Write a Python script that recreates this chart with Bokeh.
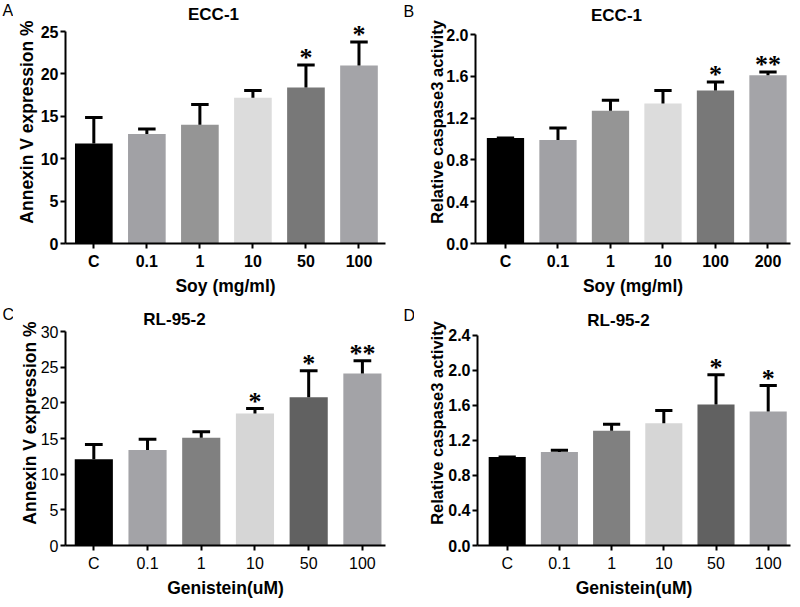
from bokeh.plotting import figure
from bokeh.layouts import column, row
from bokeh.models import (FixedTicker, Label, LabelSet, ColumnDataSource,
                          NumeralTickFormatter, Range1d)
from bokeh.embed import file_html
from bokeh.resources import INLINE

FONT = "Liberation Sans"

# ---------------- data ----------------
a_labels = ["C", "0.1", "1", "10", "50", "100"]
a_means = [11.8, 12.9, 14.0, 17.2, 18.4, 21.0]
a_sd = [3.05, 0.6, 2.4, 0.85, 2.65, 2.75]
a_stars = ["", "", "", "", "*", "*"]

b_labels = ["C", "0.1", "1", "10", "100", "200"]
b_means = [1.01, 0.99, 1.27, 1.34, 1.465, 1.61]
b_sd = [0.0, 0.115, 0.10, 0.125, 0.08, 0.03]
b_stars = ["", "", "", "", "*", "**"]

c_labels = ["C", "0.1", "1", "10", "50", "100"]
c_means = [12.1, 13.4, 15.1, 18.5, 20.8, 24.1]
c_sd = [2.05, 1.5, 0.85, 0.7, 3.7, 1.8]
c_stars = ["", "", "", "*", "*", "**"]

d_labels = ["C", "0.1", "1", "10", "50", "100"]
d_means = [1.01, 1.066, 1.31, 1.395, 1.61, 1.53]
d_sd = [0.0, 0.02, 0.075, 0.145, 0.34, 0.295]
d_stars = ["", "", "", "", "*", "*"]

soy_colors = ["#000000", "#a1a1a5", "#959595", "#dcdcdc", "#787878", "#a4a4a8"]
gen_colors = ["#000000", "#a3a3a7", "#808080", "#d6d6d6", "#616161", "#a3a3a7"]


def letter_fig(letter, w, h, lx, ly):
    """Narrow strip holding the panel letter (lx, ly: position inside the strip)."""
    f = figure(width=w, height=h, output_backend="svg", toolbar_location=None,
               x_range=Range1d(0, w), y_range=Range1d(0, h),
               x_axis_type=None, y_axis_type=None,
               min_border_left=0, min_border_right=0, min_border_top=0, min_border_bottom=0)
    f.outline_line_color = None
    f.xgrid.visible = False
    f.ygrid.visible = False
    f.add_layout(Label(x=lx, y=h - ly, text=letter, text_align="left",
                       text_baseline="middle", text_font=FONT,
                       text_font_size="16px", text_color="black"))
    return f


def panel(title, labels, means, sds, stars, colors, ylabel, xlabel,
          ymax, ystep, yfmt, g, ybold, xbold, ytitle_size):
    n = len(labels)
    xs = list(range(n))
    fh = g["h"] - g["bb"]                      # frame runs from figure top to x axis
    fw = g["w"] - g["bl"] - g["br"]
    ppu = (g["ab"] - g["at"]) / ymax           # pixels per data unit
    yend = fh / ppu
    p = figure(width=g["w"], height=g["h"], output_backend="svg", toolbar_location=None,
               x_range=Range1d(g["xs"], g["xe"]), y_range=Range1d(0, yend),
               min_border_left=g["bl"], min_border_right=g["br"],
               min_border_top=0, min_border_bottom=g["bb"])
    p.outline_line_color = None
    p.xgrid.visible = False
    p.ygrid.visible = False
    p.background_fill_color = "white"
    p.border_fill_color = "white"

    src = ColumnDataSource(dict(x=xs, top=means, color=colors,
                                err=[m + s for m, s in zip(means, sds)],
                                cl=[x - 0.165 for x in xs], cr=[x + 0.165 for x in xs],
                                star=stars))
    p.vbar(x="x", top="top", bottom=0, width=0.71, fill_color="color",
           line_color=None, source=src)
    p.segment(x0="x", y0="top", x1="x", y1="err", line_color="black",
              line_width=3, source=src)
    p.segment(x0="cl", y0="err", x1="cr", y1="err", line_color="black",
              line_width=3, source=src)
    p.add_layout(LabelSet(x="x", y="err", text="star", source=src,
                          text_align="center", text_baseline="alphabetic",
                          y_offset=-1, text_font=FONT, text_font_style="bold",
                          text_font_size="26px", text_color="black"))

    for ax in (p.xaxis[0], p.yaxis[0]):
        ax.axis_line_width = 2
        ax.axis_line_color = "black"
        ax.major_tick_line_width = 2
        ax.major_tick_line_color = "black"
        ax.major_tick_out = 5
        ax.major_tick_in = 0
        ax.minor_tick_line_color = None
        ax.axis_label_text_font = FONT
        ax.axis_label_text_font_style = "bold"
        ax.axis_label_text_color = "black"
        ax.major_label_text_font = FONT
        ax.major_label_text_color = "black"
        ax.major_label_text_font_size = "16px"

    xa = p.xaxis[0]
    xa.ticker = FixedTicker(ticks=xs)
    xa.major_label_overrides = {i: lab for i, lab in enumerate(labels)}
    xa.axis_label = xlabel
    xa.axis_label_text_font_size = "17.5px"
    xa.major_label_text_font_style = "bold" if xbold else "normal"
    xa.major_label_standoff = g["xls"]
    xa.axis_label_standoff = g["xas"]

    ya = p.yaxis[0]
    nt = int(round(ymax / ystep))
    ya.ticker = FixedTicker(ticks=[round(i * ystep, 4) for i in range(nt + 1)])
    ya.bounds = (0, ymax)
    ya.formatter = NumeralTickFormatter(format=yfmt)
    ya.axis_label = ylabel
    ya.axis_label_text_font_size = ytitle_size
    ya.major_label_text_font_style = "bold" if ybold else "normal"
    ya.major_label_standoff = 2
    ya.axis_label_standoff = g["yas"]

    fl = g["ox"] + g["bl"]

    def dx(px):
        return g["xs"] + (px - fl) / fw * (g["xe"] - g["xs"])

    def dy(py):
        return (g["ab"] - py) / ppu

    p.add_layout(Label(x=dx(g["tx"]), y=dy(g["ty"]), text=title, text_align="center",
                       text_baseline="middle", text_font=FONT, text_font_style="bold",
                       text_font_size="17px", text_color="black"))
    return p


# geometry in page pixels (figure origin ox, oy; axis top/bottom at, ab)
gA = dict(w=387, h=300, ox=13, oy=0, bl=52, br=15, bb=57, at=31, ab=243,
          xs=-0.534, xe=5.50, tx=213, ty=13.5, xls=4, xas=3, yas=1)
gB = dict(w=386, h=300, ox=414, oy=0, bl=61, br=10, bb=57, at=34, ab=243,
          xs=-0.571, xe=5.429, tx=616, ty=15, xls=4, xas=3, yas=-3)
gC = dict(w=387, h=307, ox=13, oy=300, bl=52, br=15, bb=62, at=331, ab=545,
          xs=-0.527, xe=5.43, tx=174, ty=318.5, xls=4, xas=3, yas=-2)
gD = dict(w=386, h=307, ox=414, oy=300, bl=63, br=10, bb=60, at=335, ab=547,
          xs=-0.569, xe=5.427, tx=618, ty=320, xls=4, xas=3, yas=-1)

pA = panel("ECC-1", a_labels, a_means, a_sd, a_stars, soy_colors,
           "Annexin V expression %", "Soy (mg/ml)", 25, 5, "0", gA, True, True, "17.5px")
pB = panel("ECC-1", b_labels, b_means, b_sd, b_stars, soy_colors,
           "Relative caspase3 activity", "Soy (mg/ml)", 2.0, 0.4, "0.0", gB, True, True, "16.5px")
pC = panel("RL-95-2", c_labels, c_means, c_sd, c_stars, gen_colors,
           "Annexin V expression %", "Genistein(uM)", 30, 5, "0", gC, False, False, "17.5px")
pD = panel("RL-95-2", d_labels, d_means, d_sd, d_stars, gen_colors,
           "Relative caspase3 activity", "Genistein(uM)", 2.4, 0.4, "0.0", gD, True, False, "16.5px")

lA = letter_fig("A", 13, 300, 2, 12)
lB = letter_fig("B", 14, 300, 3, 13.5)
lC = letter_fig("C", 13, 307, 2, 17)
lD = letter_fig("D", 14, 307, 3, 18.5)

layout = column(row(lA, pA, lB, pB), row(lC, pC, lD, pD))
open("out.html", "w").write(file_html(layout, INLINE))
